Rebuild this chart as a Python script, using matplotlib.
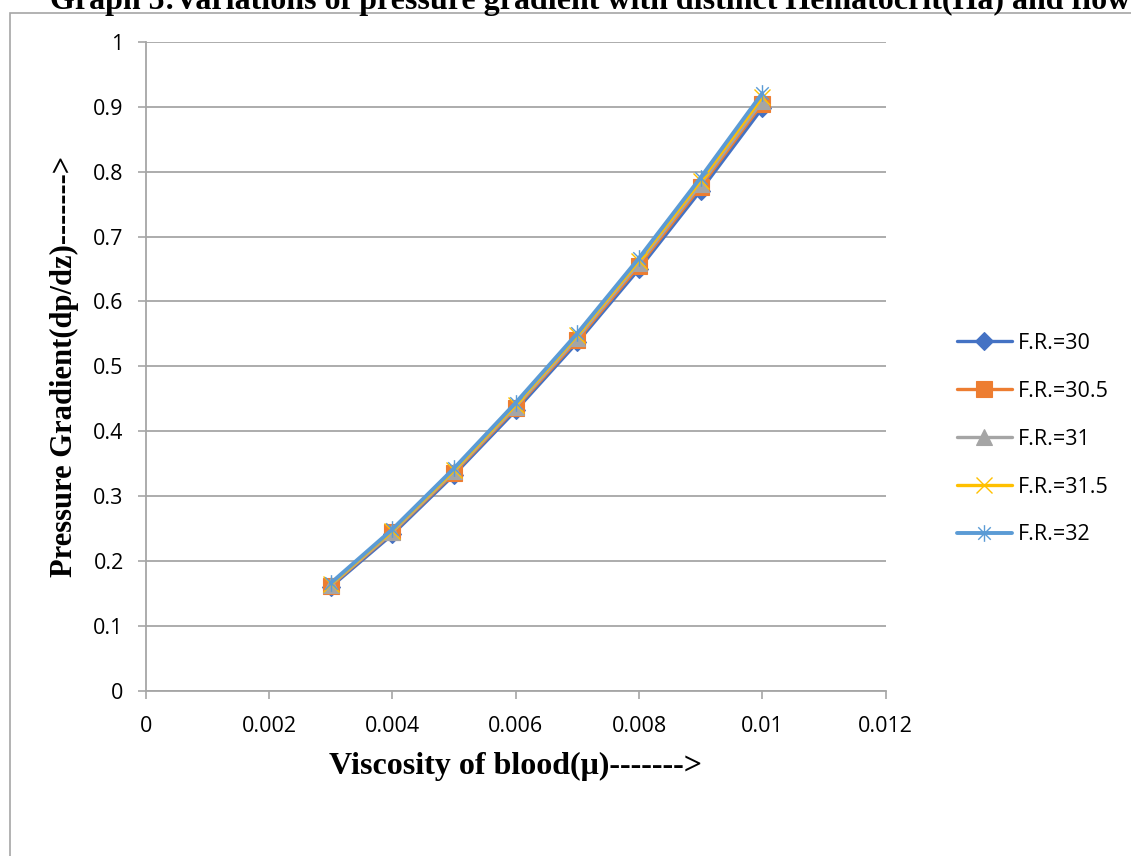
import matplotlib.pyplot as plt
from matplotlib.path import Path
from matplotlib.patches import Rectangle

# Blood viscosity (x) and pressure gradient for each flow rate
viscosity = [0.003, 0.004, 0.005, 0.006, 0.007, 0.008, 0.009, 0.010]
fr_30 = [0.160, 0.241, 0.333, 0.432, 0.537, 0.650, 0.771, 0.898]
fr_30_5 = [0.162, 0.244, 0.336, 0.436, 0.541, 0.655, 0.777, 0.905]
fr_31 = [0.163, 0.245, 0.338, 0.438, 0.544, 0.659, 0.781, 0.909]
fr_31_5 = [0.164, 0.247, 0.340, 0.441, 0.548, 0.663, 0.786, 0.915]
fr_32 = [0.166, 0.249, 0.343, 0.444, 0.551, 0.667, 0.791, 0.921]

series_labels = ["F.R.=30", "F.R.=30.5", "F.R.=31", "F.R.=31.5", "F.R.=32"]
xtick_values = [0, 0.002, 0.004, 0.006, 0.008, 0.01, 0.012]
xtick_labels = ["0", "0.002", "0.004", "0.006", "0.008", "0.01", "0.012"]
ytick_values = [0, 0.1, 0.2, 0.3, 0.4, 0.5, 0.6, 0.7, 0.8, 0.9, 1.0]
ytick_labels = ["0", "0.1", "0.2", "0.3", "0.4", "0.5", "0.6", "0.7", "0.8", "0.9", "1"]

TICK_FONT = "Open Sans"
TICK_SIZE = 15.5
SERIF = "Liberation Serif"
LABEL_SIZE = 23
GRID = "#a6a6a6"

# asterisk marker: vertical bar plus an X
asterisk = Path(
    [(0, -1), (0, 1), (-0.75, -0.75), (0.75, 0.75), (-0.75, 0.75), (0.75, -0.75)],
    [Path.MOVETO, Path.LINETO, Path.MOVETO, Path.LINETO, Path.MOVETO, Path.LINETO],
)

styles = [
    dict(color="#4472c4", marker="D", ms=9.5, lw=2.4),
    dict(color="#ed7d31", marker="s", ms=11.5, lw=2.4),
    dict(color="#a5a5a5", marker="^", ms=11, lw=2.4),
    dict(color="#ffc000", marker="x", ms=11, lw=2.4, mew=1.0),
    dict(color="#5b9bd5", marker=asterisk, ms=12, lw=2.8, mew=1.0, mfc="none"),
]

fig = plt.figure(figsize=(11.31, 8.56), dpi=100)
ax = fig.add_axes([0.129, 0.193, 0.654, 0.758])

for values, label, st in zip([fr_30, fr_30_5, fr_31, fr_31_5, fr_32],
                             series_labels, styles):
    ax.plot(viscosity, values, label=label, color=st["color"],
            linewidth=st["lw"], marker=st["marker"], markersize=st["ms"],
            markeredgewidth=st.get("mew", 0.8),
            markerfacecolor=st.get("mfc", st["color"]),
            markeredgecolor=st["color"], solid_capstyle="round")

ax.set_xlim(0, 0.012)
ax.set_ylim(0, 1)
ax.set_xticks(xtick_values)
ax.set_xticklabels(xtick_labels, fontfamily=TICK_FONT, fontsize=TICK_SIZE)
ax.set_yticks(ytick_values)
ax.set_yticklabels(ytick_labels, fontfamily=TICK_FONT, fontsize=TICK_SIZE)
ax.tick_params(axis="both", direction="out", length=6, width=1.2,
               color=GRID, labelcolor="#000000")
ax.tick_params(axis="x", pad=12)
ax.tick_params(axis="y", pad=10)

ax.yaxis.grid(True, color=GRID, linewidth=1.3)
ax.set_axisbelow(True)
for side in ("top", "right"):
    ax.spines[side].set_visible(False)
for side in ("left", "bottom"):
    ax.spines[side].set_color(GRID)
    ax.spines[side].set_linewidth(1.3)

ax.set_xlabel("Viscosity of blood(\u03bc)------->", fontfamily=SERIF,
              fontweight="bold", fontsize=LABEL_SIZE, labelpad=11)
ax.set_ylabel("Pressure Gradient(dp/dz)------->", fontfamily=SERIF,
              fontweight="bold", fontsize=22, labelpad=10)

fig.legend(loc="center left", bbox_to_anchor=(0.846, 0.487),
           frameon=False, borderpad=0, borderaxespad=0,
           prop={"family": TICK_FONT, "size": TICK_SIZE},
           handlelength=2.55, handletextpad=0.3, labelspacing=1.25)

# chart title sits partly above the top of the page
fig.text(50 / 1131, 1 - 9 / 856,
         "Graph 5:Variations of pressure gradient with distinct Hematocrit(Ha) and flow",
         fontfamily=SERIF, fontweight="bold", fontsize=LABEL_SIZE,
         va="baseline", ha="left")

# page frame lines
fig.add_artist(Rectangle((10 / 1131, -0.05), 1.2, 1 - 13 / 856 + 0.05,
                         transform=fig.transFigure, fill=False,
                         edgecolor=GRID, linewidth=1.2))

fig.savefig("out.png", dpi=100)
